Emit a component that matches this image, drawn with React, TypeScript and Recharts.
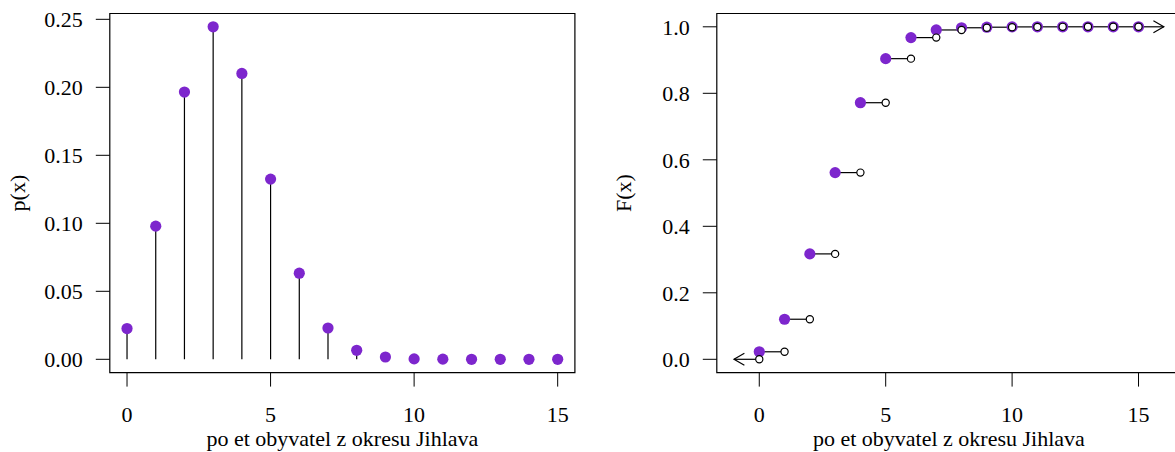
import {
  ComposedChart,
  Scatter,
  XAxis,
  YAxis,
  ReferenceLine,
  ReferenceArea,
  Label,
} from "recharts";

// values
const COUNTS = [0, 1, 2, 3, 4, 5, 6, 7, 8, 9, 10, 11, 12, 13, 14, 15];
const PMF = [
  0.0226, 0.0979, 0.1965, 0.2445, 0.2102, 0.1325, 0.0633, 0.023, 0.0066,
  0.0017, 0.0003, 0.0001, 0, 0, 0, 0,
];
const CDF = [
  0.0226, 0.1205, 0.317, 0.5615, 0.7717, 0.9042, 0.9675, 0.9905, 0.9971,
  0.9988, 0.9997, 0.9999, 1, 1, 1, 1,
];
const X_TICKS = [0, 5, 10, 15];
const P_TICKS = [0, 0.05, 0.1, 0.15, 0.2, 0.25];
const F_TICKS = [0, 0.2, 0.4, 0.6, 0.8, 1];
const STEP_LIMITS = [-1, 16];

const X_TITLE = "po et obyvatel z okresu Jihlava";
const PURPLE = "#7D26CD";
const FONT = "'Liberation Serif', 'Times New Roman', serif";
const FS = 22;

const tickStyle = { fontSize: FS, fill: "#000", fontFamily: FONT };

const pmfPoints = COUNTS.map((x, i) => ({ x, y: PMF[i] }));
const cdfFilled = COUNTS.map((x, i) => ({ x, y: CDF[i] }));
const cdfOpen = [
  { x: COUNTS[0], y: 0 },
  ...COUNTS.slice(1).map((x, i) => ({ x, y: CDF[i] })),
];

const dot = (props: any) => (
  <circle cx={props.cx} cy={props.cy} r={5.6} fill={PURPLE} />
);
const openDot = (props: any) => (
  <circle
    cx={props.cx}
    cy={props.cy}
    r={3.6}
    fill="#fff"
    stroke="#000"
    strokeWidth={1.2}
  />
);

// line with an open arrow head at (x2, y2)
const arrow = (props: any) => {
  const { x1, y1, x2, y2 } = props;
  const a = Math.atan2(y2 - y1, x2 - x1);
  const len = 12;
  const s = Math.PI / 6;
  const p1 = [x2 - len * Math.cos(a - s), y2 - len * Math.sin(a - s)];
  const p2 = [x2 - len * Math.cos(a + s), y2 - len * Math.sin(a + s)];
  return (
    <g stroke="#000" strokeWidth={1.2} fill="none">
      <line x1={x1} y1={y1} x2={x2} y2={y2} />
      <polyline points={`${p1[0]},${p1[1]} ${x2},${y2} ${p2[0]},${p2[1]}`} />
    </g>
  );
};

const xTitle = (props: any) => {
  const vb = props.viewBox || {};
  return (
    <text
      x={vb.x + vb.width / 2}
      y={446}
      textAnchor="middle"
      fontSize={FS}
      fontFamily={FONT}
      fill="#000"
    >
      {X_TITLE}
    </text>
  );
};

const yTitle = (text: string, bx: number) => (props: any) => {
  const vb = props.viewBox || {};
  const cy = vb.y + vb.height / 2;
  return (
    <text
      x={bx}
      y={cy}
      transform={`rotate(-90 ${bx} ${cy})`}
      textAnchor="middle"
      fontSize={FS}
      fontFamily={FONT}
      fill="#000"
    >
      {text}
    </text>
  );
};

const PMF_X = [-0.6, 15.6];
const PMF_Y = [-0.00978, 0.25428];
const CDF_X = [-1.68, 16.68];
const CDF_Y = [-0.04, 1.04];

function PmfChart() {
  return (
    <ComposedChart
      width={587}
      height={452}
      margin={{ top: 13.5, right: 12.1, left: 0, bottom: 19.4 }}
    >
      <XAxis
        type="number"
        dataKey="x"
        domain={PMF_X}
        ticks={X_TICKS}
        allowDataOverflow
        axisLine={false}
        tickSize={14}
        tickMargin={20}
        tickLine={{ stroke: "#000" }}
        tick={tickStyle}
        height={60}
        interval={0}
      >
        <Label content={xTitle} />
      </XAxis>
      <YAxis
        type="number"
        dataKey="y"
        domain={PMF_Y}
        ticks={P_TICKS}
        allowDataOverflow
        axisLine={false}
        width={109.8}
        tickSize={14}
        tickMargin={13}
        tickLine={{ stroke: "#000" }}
        tick={tickStyle}
        tickFormatter={(v: number) => v.toFixed(2)}
        interval={0}
      >
        <Label content={yTitle("p(x)", 25)} />
      </YAxis>
      <ReferenceArea
        x1={PMF_X[0]}
        x2={PMF_X[1]}
        y1={PMF_Y[0]}
        y2={PMF_Y[1]}
        fill="none"
        fillOpacity={0}
        stroke="#000"
        strokeWidth={1.2}
        ifOverflow="visible"
      />
      {pmfPoints.map((p) => (
        <ReferenceLine
          key={`stem-${p.x}`}
          segment={[
            { x: p.x, y: 0 },
            { x: p.x, y: p.y },
          ]}
          stroke="#000"
          strokeWidth={1.2}
          ifOverflow="visible"
          zIndex={300}
        />
      ))}
      <Scatter
        data={pmfPoints}
        shape={dot}
        isAnimationActive={false}
        zIndex={700}
      />
    </ComposedChart>
  );
}

function CdfChart() {
  return (
    <ComposedChart
      width={600}
      height={452}
      margin={{ top: 13.5, right: 6, left: 0, bottom: 19.4 }}
    >
      <XAxis
        type="number"
        dataKey="x"
        domain={CDF_X}
        ticks={X_TICKS}
        allowDataOverflow
        axisLine={false}
        tickSize={14}
        tickMargin={20}
        tickLine={{ stroke: "#000" }}
        tick={tickStyle}
        height={60}
        interval={0}
      >
        <Label content={xTitle} />
      </XAxis>
      <YAxis
        type="number"
        dataKey="y"
        domain={CDF_Y}
        ticks={F_TICKS}
        allowDataOverflow
        axisLine={false}
        width={129.8}
        tickSize={14}
        tickMargin={13}
        tickLine={{ stroke: "#000" }}
        tick={tickStyle}
        tickFormatter={(v: number) => v.toFixed(1)}
        interval={0}
      >
        <Label content={yTitle("F(x)", 44)} />
      </YAxis>
      <ReferenceArea
        x1={CDF_X[0]}
        x2={CDF_X[1]}
        y1={CDF_Y[0]}
        y2={CDF_Y[1]}
        fill="none"
        fillOpacity={0}
        stroke="#000"
        strokeWidth={1.2}
        ifOverflow="visible"
      />
      {COUNTS.slice(0, -1).map((x, i) => (
        <ReferenceLine
          key={`step-${x}`}
          segment={[
            { x, y: CDF[i] },
            { x: COUNTS[i + 1], y: CDF[i] },
          ]}
          stroke="#000"
          strokeWidth={1.2}
          ifOverflow="visible"
          zIndex={300}
        />
      ))}
      <ReferenceLine
        segment={[
          { x: COUNTS[0], y: 0 },
          { x: STEP_LIMITS[0], y: 0 },
        ]}
        shape={arrow}
        ifOverflow="visible"
        zIndex={300}
      />
      <ReferenceLine
        segment={[
          { x: COUNTS[COUNTS.length - 1], y: CDF[CDF.length - 1] },
          { x: STEP_LIMITS[1], y: CDF[CDF.length - 1] },
        ]}
        shape={arrow}
        ifOverflow="visible"
        zIndex={300}
      />
      <Scatter
        data={cdfFilled}
        shape={dot}
        isAnimationActive={false}
        zIndex={700}
      />
      <Scatter
        data={cdfOpen}
        shape={openDot}
        isAnimationActive={false}
        zIndex={800}
      />
    </ComposedChart>
  );
}

export default function App() {
  return (
    <div
      style={{
        position: "absolute",
        left: 0,
        top: 0,
        width: 1175,
        height: 452,
        overflow: "hidden",
        background: "#fff",
      }}
    >
      <div style={{ position: "absolute", left: 0, top: 0 }}>
        <PmfChart />
      </div>
      <div style={{ position: "absolute", left: 587, top: 0 }}>
        <CdfChart />
      </div>
    </div>
  );
}
